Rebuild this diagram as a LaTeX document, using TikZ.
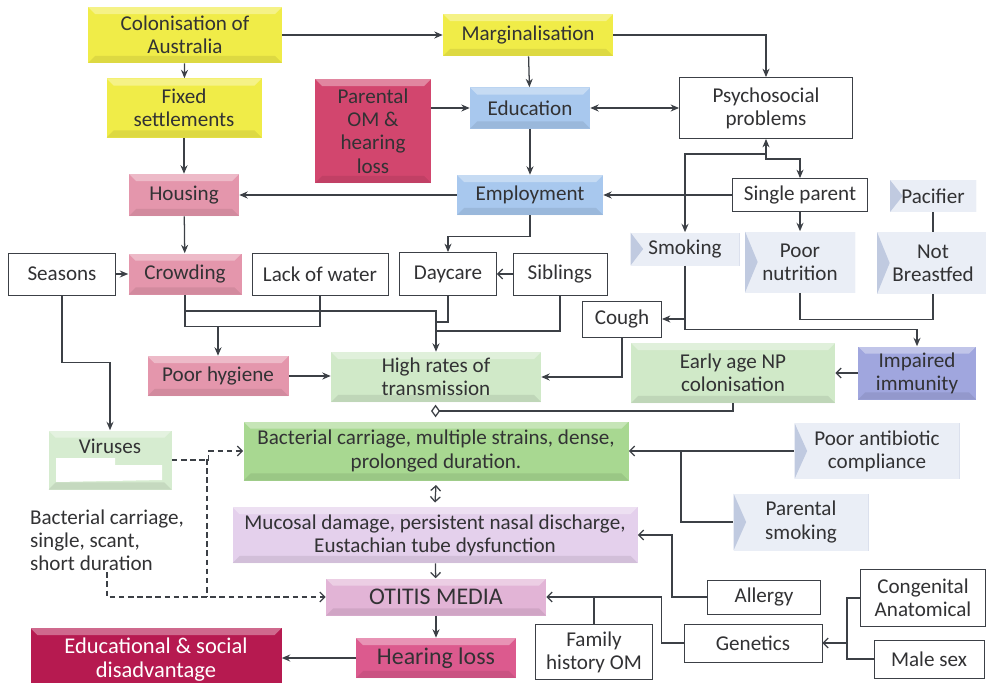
\documentclass[tikz,border=0pt]{standalone}
\usepackage{fontspec}
\setmainfont{Carlito}
\usetikzlibrary{arrows.meta}

\definecolor{txt}{RGB}{50,50,52}
\definecolor{lin}{RGB}{60,64,70}
\definecolor{yel}{RGB}{240,236,72}
\definecolor{crimson}{RGB}{210,70,110}
\definecolor{rose}{RGB}{228,150,172}
\definecolor{sky}{RGB}{168,200,238}
\definecolor{paleblue}{RGB}{234,238,246}
\definecolor{paledark}{RGB}{192,202,224}
\definecolor{mint}{RGB}{208,233,200}
\definecolor{grass}{RGB}{168,216,145}
\definecolor{violet}{RGB}{160,166,222}
\definecolor{lilac}{RGB}{228,208,236}
\definecolor{orchid}{RGB}{226,180,214}
\definecolor{hearpink}{RGB}{220,90,142}
\definecolor{wine}{RGB}{182,26,80}
\definecolor{virgreen}{RGB}{214,236,208}

\begin{document}
\begin{tikzpicture}
    [x=0.025cm, y=-0.025cm,
    font=\fontsize{15}{16.5}\selectfont, text=txt,
    % Size of a box, in pixels of the scan
    sz/.style 2 args={minimum width=#1*0.025cm, minimum height=#2*0.025cm},
    % Coloured boxes with a bevelled edge
    bevel/.style={rectangle, fill=#1, align=center, inner sep=1pt,
        path picture={
            \fill[white, opacity=.35] (path picture bounding box.north west) -- (path picture bounding box.north east)
                -- ([shift={(-5pt,-5pt)}]path picture bounding box.north east) -- ([shift={(5pt,-5pt)}]path picture bounding box.north west) -- cycle;
            \fill[black, opacity=.08] (path picture bounding box.south west) -- (path picture bounding box.south east)
                -- ([shift={(-5pt,5pt)}]path picture bounding box.south east) -- ([shift={(5pt,5pt)}]path picture bounding box.south west) -- cycle;
        }},
    % Pale risk factors, darker wedge at the left
    pale/.style={rectangle, fill=paleblue, align=center, inner sep=1pt,
        path picture={
            \fill[paledark] (path picture bounding box.north west) -- ([xshift=9pt]path picture bounding box.west) -- (path picture bounding box.south west) -- cycle;
            \draw[paledark!70] (path picture bounding box.north east) -- (path picture bounding box.south east);
        }},
    % Plain boxes
    plain/.style={rectangle, draw=lin, line width=0.6pt, fill=white, align=center, inner sep=1pt},
    line/.style={draw=lin, line width=0.9pt, -{Stealth[length=6pt, width=5pt]}},
    both/.style={draw=lin, line width=0.9pt, {Stealth[length=6pt, width=5pt]}-{Stealth[length=6pt, width=5pt]}},
    open/.style={draw=lin, line width=0.9pt, -{Straight Barb[length=3.5pt, width=7pt]}},
    link/.style={draw=lin, line width=0.9pt},
    virus/.style={draw=lin, line width=0.9pt, dash pattern=on 4pt off 2.5pt, -{Straight Barb[length=3.5pt, width=7pt]}}]
    \useasboundingbox (0,0) rectangle (986,683);
    \clip (0,0) rectangle (986,683);

    % Social causes
    \node[bevel=yel, sz={194}{56}] (colon) at (185,35) {Colonisation of\\Australia};
    \node[bevel=yel, sz={170}{42}] (marg) at (528,35) {Marginalisation};
    \node[bevel=yel, sz={155}{59}] (fixed) at (184,108) {Fixed\\settlements};
    \node[bevel=crimson, sz={116}{104}] (parom) at (373,131) {Parental\\OM \&\\hearing\\loss};
    \node[bevel=sky, sz={120}{41}] (edu) at (530,108) {Education};
    \node[plain, sz={173}{61}] (psy) at (766,108) {Psychosocial\\problems};
    \node[bevel=rose, sz={110}{42}] (hous) at (184,195) {Housing};
    \node[bevel=sky, sz={146}{40}] (emp) at (530,195) {Employment};
    \node[plain, sz={135}{33}] (single) at (800,195) {Single parent};
    \node[pale, sz={86}{32}] (pacif) at (933,196) {Pacifier};

    % Household and child factors
    \node[pale, sz={109}{33}] (smoke) at (685,249) {Smoking};
    \node[pale, sz={110}{61}] (nutr) at (800,262) {Poor\\nutrition};
    \node[pale, sz={112}{62}] (notbf) at (933,263) {Not\\Breastfed};
    \node[plain, sz={107}{42}] (seas) at (62,274) {Seasons};
    \node[bevel=rose, sz={113}{41}] (crowd) at (185,274) {Crowding};
    \node[plain, sz={136}{42}] (lack) at (320,274) {Lack of water};
    \node[plain, sz={97}{43}] (day) at (448,274) {Daycare};
    \node[plain, sz={94}{42}] (sib) at (560,274) {Siblings};
    \node[plain, sz={79}{36}] (cough) at (622,319) {Cough};
    \node[bevel=rose, sz={141}{40}] (hyg) at (218,376) {Poor hygiene};
    \node[bevel=mint, sz={210}{50}] (high) at (436,377) {High rates of\\transmission};
    \node[bevel=mint, sz={204}{60}] (early) at (733,373) {Early age NP\\colonisation};
    \node[bevel=violet, sz={118}{53}] (immu) at (917,373) {Impaired\\immunity};

    % Carriage and disease
    \node[bevel=virgreen, sz={123}{59}, text depth=20pt] (vir) at (110,460) {Viruses};
    \fill[white] (56,458) -- (115,458) -- (115,465) -- (162,465) -- (162,480) -- (56,482) -- cycle;
    \node[bevel=grass, sz={385}{59}] (bact) at (436,451) {Bacterial carriage, multiple strains, dense,\\prolonged duration.};
    \node[align=left, inner sep=1pt] (scant) at (107,540) {Bacterial carriage,\\single, scant,\\short duration};
    \node[pale, sz={165}{56}] (abx) at (877,451) {Poor antibiotic\\compliance};
    \node[bevel=lilac, sz={405}{56}] (muc) at (435,535) {Mucosal damage, persistent nasal discharge,\\Eustachian tube dysfunction};
    \node[pale, sz={135}{57}] (psmoke) at (801,522) {Parental\\smoking};
    \node[bevel=orchid, sz={220}{37}, font=\fontsize{17}{19}\selectfont] (om) at (436,597) {OTITIS MEDIA};
    \node[plain, sz={113}{34}] (allergy) at (764,597) {Allergy};
    \node[plain, sz={125}{57}] (cong) at (923,598) {Congenital\\Anatomical};
    \node[plain, sz={138}{38}] (gen) at (753,643) {Genetics};
    \node[plain, sz={117}{55}] (fam) at (594,652) {Family\\history OM};
    \node[plain, sz={110}{38}] (male) at (929,659) {Male sex};
    \node[bevel=hearpink, sz={160}{40}, font=\fontsize{17}{19}\selectfont] (hear) at (436,658) {Hearing loss};
    \node[bevel=wine, sz={251}{64}, text=white, font=\fontsize{16}{17}\selectfont] (dis) at (156,660) {Educational \& social\\disadvantage};

    % Connectors, top part
    \draw[line] (colon) -- (marg);
    \draw[line] (colon) -- (fixed);
    \draw[line] (fixed) -- (hous);
    \draw[line] (marg) -- (edu);
    \draw[line] (marg.east) -| (psy.north);
    \draw[both] (edu) -- (psy);
    \draw[line] (parom.east |- edu.west) -- (edu.west);
    \draw[line] (edu) -- (emp);
    \draw[line] (emp) -- (hous);
    \draw[line] (single) -- (emp);
    \draw[both] (psy.south) -- ++(0,20) -| (single.north);
    \coordinate (jpsy) at (766,154);
    \draw[line] (jpsy) -| (smoke.north);
    \draw[line] (single) -- (nutr);
    \draw[link] (pacif) -- (notbf);
    \draw[line] (emp.south) -- ++(0,21) -| (day.north);
    \draw[open] (sib) -- (day);
    \draw[line] (hous) -- (crowd);
    \draw[line] (seas) -- (crowd);
    \draw[line] (seas.south) -- ++(0,67) -| (vir.north);

    % Connectors into transmission
    \draw[link] (crowd.south) -- ++(0,32) -| (lack.south);
    \coordinate (jhyg) at (218,326);
    \draw[line] (jhyg) -- (hyg);
    \coordinate (jcrowd) at (185,311);
    \draw[line] (jcrowd) -| (high.north);
    \draw[link] (day.south) |- (436,322);
    \draw[link] (sib.south) |- (436,331);
    \draw[line] (hyg) -- (hyg.east -| high.west);
    \draw[line] (cough.south) |- (high.east);
    \draw[line] (smoke.south) |- (cough.east);
    \draw[line] (smoke.south) -- ++(0,64) -| (immu.north);
    \draw[link] (nutr.south) -- ++(0,27) -| (notbf.south);
    \draw[open] (immu) -- (early);
    \draw[lin, line width=0.9pt, -{Diamond[open, length=6.5pt, width=9pt]}] (early.south) |- (431,411);

    % Connectors into otitis media
    \draw[open, {Straight Barb[length=3.5pt, width=7pt]}-{Straight Barb[length=3.5pt, width=7pt]}] ([yshift=-3pt]bact.south) -- ([yshift=3pt]muc.north);
    \draw[open] (muc) -- (om);
    \draw[line] (om) -- (hear);
    \draw[line] (hear) -- (dis.east |- hear.west);
    \draw[open] (abx) -- (bact);
    \draw[link] (psmoke.west) -| (681,451);
    \draw[open] (allergy.west) -- ++(-35,0) |- (muc.east);
    \draw[open] (gen.west) -- ++(-22,0) |- (om.east);
    \draw[link] (fam.north) -- (fam.north |- om.east);
    \draw[link] (cong.west) -- ++(-13,0) |- (male.west);
    \draw[open] (848,643) -- (gen.east);
    \draw[virus] (vir.east) -- ++(37,0) |- (bact.west);
    \draw[link, dash pattern=on 4pt off 2.5pt] (207,459) -- (207,597);
    \draw[virus] (scant.south) |- (om.west);
\end{tikzpicture}
\end{document}
